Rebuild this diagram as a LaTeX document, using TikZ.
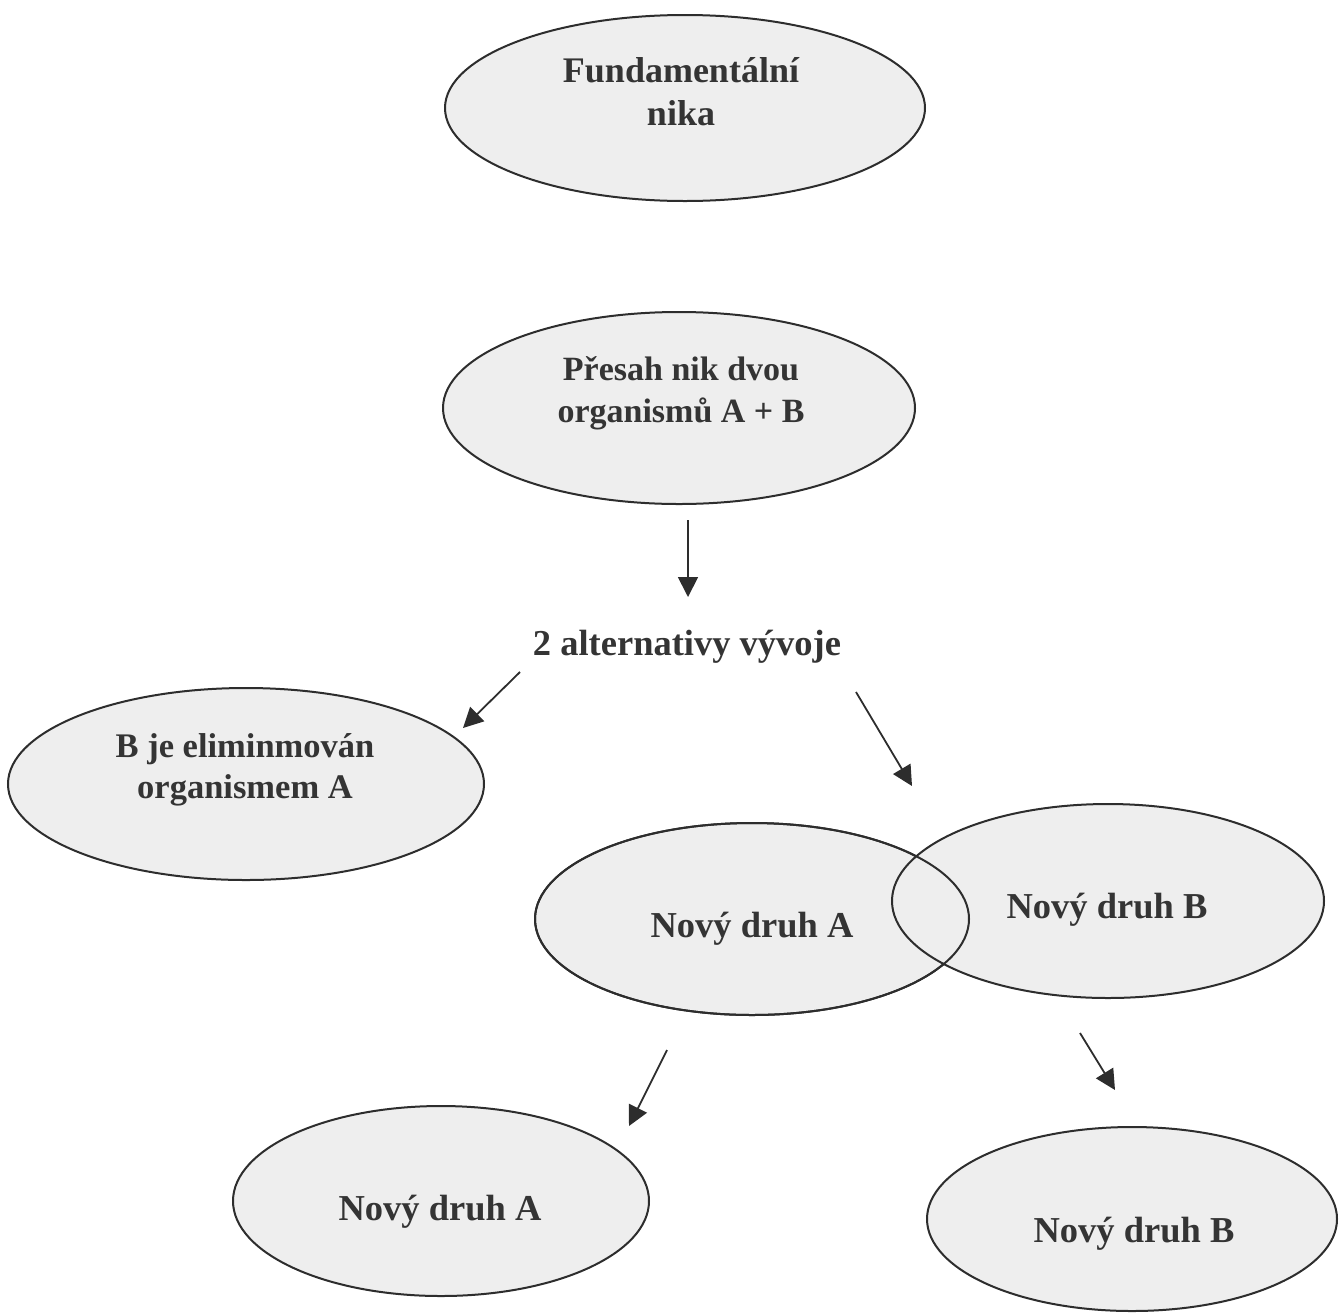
\documentclass[tikz,border=0pt]{standalone}
\usepackage{fontspec}
\setmainfont{Liberation Serif}
\usetikzlibrary{shapes.geometric, arrows.meta}
\definecolor{ellfill}{RGB}{238,238,238}
\definecolor{ink}{RGB}{45,45,45}
\definecolor{txt}{RGB}{52,52,52}
\begin{document}
\begin{tikzpicture}[x=1pt,y=-1pt,
  ell/.style={ellipse, draw=ink, line width=2pt, fill=ellfill, inner sep=0pt},
  outline/.style={draw=ink, line width=2pt},
  lbl/.style={text=txt, align=center, inner sep=0pt, anchor=base},
  arr/.style={draw=ink, line width=1.8pt, -{Triangle[length=20pt,width=20pt]}}]
\useasboundingbox (0,0) rectangle (1343,1312);

% ellipses
\node[ell, minimum width=480pt, minimum height=186pt] (fund) at (685,108) {};
\node[ell, minimum width=472pt, minimum height=192pt] (pre) at (679,408) {};
\node[ell, minimum width=476pt, minimum height=192pt] (elim) at (246,784) {};
\node[ell, minimum width=434pt, minimum height=192pt] (nA) at (752,919) {};
\node[ell, minimum width=432pt, minimum height=194pt] (nB) at (1108,901) {};
\draw[outline] (nA.center) ellipse [x radius=217, y radius=96];
\node[ell, minimum width=416pt, minimum height=190pt] (bA) at (441,1201) {};
\node[ell, minimum width=410pt, minimum height=184pt] (bB) at (1132,1219) {};

% texts (base anchor of a two-line label = baseline of its last line)
\node[lbl, font=\bfseries\fontsize{36}{43}\selectfont] (fundT) at (681,125) {Fundamentální\\nika};
\node[lbl, font=\bfseries\fontsize{34}{42}\selectfont] (preT) at (681,422) {Přesah nik dvou\\organismů A + B};
\node[lbl, font=\bfseries\fontsize{36.5}{44}\selectfont] (alt) at (687,655) {2 alternativy vývoje};
\node[lbl, font=\bfseries\fontsize{34.5}{41}\selectfont] (elimT) at (245,798) {B je eliminmován\\organismem A};
\node[lbl, font=\bfseries\fontsize{36.5}{44}\selectfont] (nAT) at (752,937) {Nový druh A};
\node[lbl, font=\bfseries\fontsize{36.5}{44}\selectfont] (nBT) at (1107,918) {Nový druh B};
\node[lbl, font=\bfseries\fontsize{36.5}{44}\selectfont] (bAT) at (440,1220) {Nový druh A};
\node[lbl, font=\bfseries\fontsize{36.5}{44}\selectfont] (bBT) at (1134,1242) {Nový druh B};

% arrow end points
\coordinate (a1s) at (688,520);
\coordinate (a1e) at (688,597);
\coordinate (a2s) at (520,672);
\coordinate (a2e) at (463,728);
\coordinate (a3s) at (856,692);
\coordinate (a3e) at (912,786);
\coordinate (a4s) at (667,1050);
\coordinate (a4e) at (629,1126);
\coordinate (a5s) at (1080,1033);
\coordinate (a5e) at (1115,1090);

\draw[arr] (a1s) -- (a1e);
\draw[arr] (a2s) -- (a2e);
\draw[arr] (a3s) -- (a3e);
\draw[arr] (a4s) -- (a4e);
\draw[arr] (a5s) -- (a5e);
\end{tikzpicture}
\end{document}
